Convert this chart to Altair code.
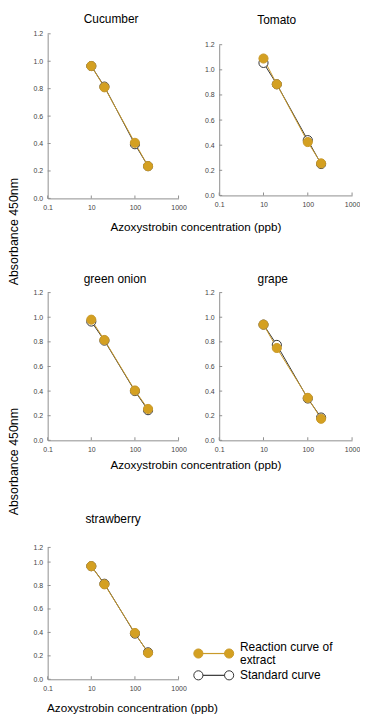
import altair as alt
import pandas as pd

# ---------------- data ----------------
concentrations = [10, 20, 100, 200]
series_names = ["Reaction curve of extract", "Standard curve"]
legend_label_lines = [["Reaction curve of", "extract"], ["Standard curve"]]
legend_ends = ["left", "right"]

cucumber_extract = [0.965, 0.81, 0.405, 0.235]
cucumber_standard = [0.965, 0.815, 0.395, 0.235]
tomato_extract = [1.09, 0.885, 0.425, 0.255]
tomato_standard = [1.055, 0.885, 0.44, 0.25]
green_onion_extract = [0.98, 0.815, 0.405, 0.255]
green_onion_standard = [0.965, 0.81, 0.40, 0.245]
grape_extract = [0.94, 0.75, 0.345, 0.175]
grape_standard = [0.94, 0.775, 0.34, 0.185]
strawberry_extract = [0.965, 0.81, 0.395, 0.225]
strawberry_standard = [0.965, 0.815, 0.39, 0.23]

x_tick_values = [1, 10, 100, 1000]
x_tick_labels = ["0.1", "10", "100", "1000"]
y_tick_values = [0, 0.2, 0.4, 0.6, 0.8, 1.0, 1.2]
y_tick_labels = ["0.0", "0.2", "0.4", "0.6", "0.8", "1.0", "1.2"]
strawberry_y_tick_values = [0, 0.2, 0.4, 0.6, 0.8, 1.0, 1.125]
strawberry_y_tick_labels = ["0.0", "0.2", "0.4", "0.6", "0.8", "1.0", "1.2"]

x_title = "Azoxystrobin concentration (ppb)"
y_title = "Absorbance 450nm"

# ---------------- style ----------------
FONT = "Liberation Sans"
GOLD_FILL = "#D4A021"
GOLD_LINE = "#C99A2A"
STD_LINE = "#333333"
AXIS_GRAY = "#8f8f8f"
TICK_LEN = 3
LEGEND_FONT_SIZE = 12
LEGEND_LINE_HEIGHT = 14

fill_scale = alt.Scale(domain=series_names, range=[GOLD_FILL, "#ffffff"])
stroke_scale = alt.Scale(domain=series_names, range=[GOLD_LINE, STD_LINE])


def label_expr(values, labels):
    parts = [f"datum.value == {v} ? '{l}'" for v, l in zip(values, labels)]
    return " : ".join(parts) + " : datum.label"


def panel(name, ext, std, width, height, title_dx, title_offset,
          yrange=None, ydomain=(0, 1.2), yticks=y_tick_values, ylabels=y_tick_labels,
          x_offset=0, xtitle_pos=None, ytitle_y=None):
    rows = []
    for s, vals in ((series_names[1], std), (series_names[0], ext)):
        for c, v in zip(concentrations, vals):
            rows.append({"series": s, "conc": c, "absorbance": v})
    df = pd.DataFrame(rows)

    x_axis_kw = dict(values=x_tick_values, labelExpr=label_expr(x_tick_values, x_tick_labels),
                     offset=x_offset)
    if xtitle_pos is not None:
        x_axis_kw.update(title=x_title, titleX=xtitle_pos[0], titleY=xtitle_pos[1],
                         titleBaseline="middle", titleAlign="center", titleAnchor="start")
    else:
        x_axis_kw.update(title=None)

    y_axis_kw = dict(values=yticks, labelExpr=label_expr(yticks, ylabels))
    if ytitle_y is not None:
        y_axis_kw.update(title=y_title, titleX=-34, titleY=ytitle_y, titleAngle=270,
                         titleBaseline="middle", titleAlign="center", titleFontSize=12.5)
    else:
        y_axis_kw.update(title=None)

    yscale_kw = dict(domain=list(ydomain), nice=False, zero=False)
    if yrange is not None:
        yscale_kw["range"] = yrange
    xscale = alt.Scale(type="log", domain=[1, 1000], nice=False)
    yscale = alt.Scale(**yscale_kw)
    x_axis = alt.Axis(**x_axis_kw)
    y_axis = alt.Axis(**y_axis_kw)

    x = alt.X("conc:Q", scale=xscale, axis=x_axis)
    y = alt.Y("absorbance:Q", scale=yscale, axis=y_axis)

    base = alt.Chart(df)
    lines = base.mark_line(strokeWidth=1).encode(
        x=x, y=y,
        stroke=alt.Stroke("series:N", scale=stroke_scale, legend=None),
    )
    points = base.mark_point(shape="circle", size=85, strokeWidth=1, opacity=1).encode(
        x=x, y=y,
        fill=alt.Fill("series:N", scale=fill_scale, legend=None),
        stroke=alt.Stroke("series:N", scale=stroke_scale, legend=None),
    )
    # small inward axis ticks (same scales and axis settings as the data layers)
    ytick_layer = alt.Chart(pd.DataFrame({"absorbance": yticks})).mark_tick(
        orient="horizontal", size=TICK_LEN, thickness=1, color=AXIS_GRAY, opacity=1,
    ).encode(x=alt.value(TICK_LEN / 2), y=y)
    xtick_layer = alt.Chart(pd.DataFrame({"conc": x_tick_values})).mark_tick(
        orient="vertical", size=TICK_LEN, thickness=1, color=AXIS_GRAY, opacity=1,
    ).encode(x=x, y=alt.value(height + x_offset - TICK_LEN / 2))

    return alt.layer(lines, points, ytick_layer, xtick_layer).properties(
        width=width, height=height,
        title=alt.TitleParams(text=name, fontSize=12, fontWeight="normal", font=FONT,
                              color="black", frame="group", anchor="middle",
                              dx=title_dx, offset=title_offset),
    )


def legend_panel(width, height, yrange):
    rows = []
    for s, lines in zip(series_names, legend_label_lines):
        for e in legend_ends:
            rows.append({"series": s, "end": e, "label": lines})
    df = pd.DataFrame(rows)
    x = alt.X("end:N", scale=alt.Scale(type="point", domain=legend_ends, range=[-21, 10], padding=0),
              axis=None)
    y = alt.Y("series:N", scale=alt.Scale(type="point", domain=series_names, range=yrange, padding=0),
              axis=None)
    base = alt.Chart(df)
    line = base.mark_line(strokeWidth=1.2).encode(
        x=x, y=y, detail="series:N",
        stroke=alt.Stroke("series:N", scale=stroke_scale, legend=None),
    )
    pts = base.mark_point(shape="circle", size=85, strokeWidth=1, opacity=1).encode(
        x=x, y=y,
        fill=alt.Fill("series:N", scale=fill_scale, legend=None),
        stroke=alt.Stroke("series:N", scale=stroke_scale, legend=None),
    )
    layers = [line, pts]
    for s, lines in zip(series_names, legend_label_lines):
        dy = -(len(lines) - 1) * LEGEND_LINE_HEIGHT / 2
        layers.append(
            base.transform_filter((alt.datum.end == legend_ends[0]) & (alt.datum.series == s))
            .mark_text(align="left", baseline="middle", fontSize=LEGEND_FONT_SIZE, font=FONT,
                       color="black", lineHeight=LEGEND_LINE_HEIGHT, dy=dy)
            .encode(x=alt.value(21), y=y, text="label")
        )
    return alt.layer(*layers).properties(width=width, height=height)


cucumber = panel("Cucumber", cucumber_extract, cucumber_standard, 132, 166,
                 title_dx=-2, title_offset=4, xtitle_pos=(149, 28), ytitle_y=199)
tomato = panel("Tomato", tomato_extract, tomato_standard, 134, 166,
               title_dx=-9, title_offset=7, yrange=[163, 11], x_offset=-3)
green_onion = panel("green onion", green_onion_extract, green_onion_standard, 132, 149,
                    title_dx=2, title_offset=3, xtitle_pos=(149, 24), ytitle_y=170)
grape = panel("grape", grape_extract, grape_standard, 134, 149,
              title_dx=-13, title_offset=3)
strawberry = panel("strawberry", strawberry_extract, strawberry_standard, 132, 146,
                   title_dx=0, title_offset=9, yrange=[146, 13],
                   ydomain=(0, 1.125), yticks=strawberry_y_tick_values,
                   ylabels=strawberry_y_tick_labels, xtitle_pos=(85, 28))
legend = legend_panel(134, 146, [120, 142])

chart = alt.concat(
    cucumber, tomato, green_onion, grape, strawberry, legend,
    columns=2, spacing={"row": 95, "column": 41}, bounds="flush", align="each",
).properties(
    padding={"left": 0, "top": 2, "right": 0, "bottom": 0},
).configure_view(stroke=None).configure_axis(
    grid=False, domainColor=AXIS_GRAY, domainWidth=1, ticks=False,
    labelFont=FONT, labelFontSize=7, labelColor="#444444", labelPadding=5,
    labelFlush=False, titleFont=FONT, titleFontSize=11.8, titleFontWeight="normal",
    titleColor="black",
)

chart.save("out.html", embed_options={"renderer": "svg", "actions": False})
